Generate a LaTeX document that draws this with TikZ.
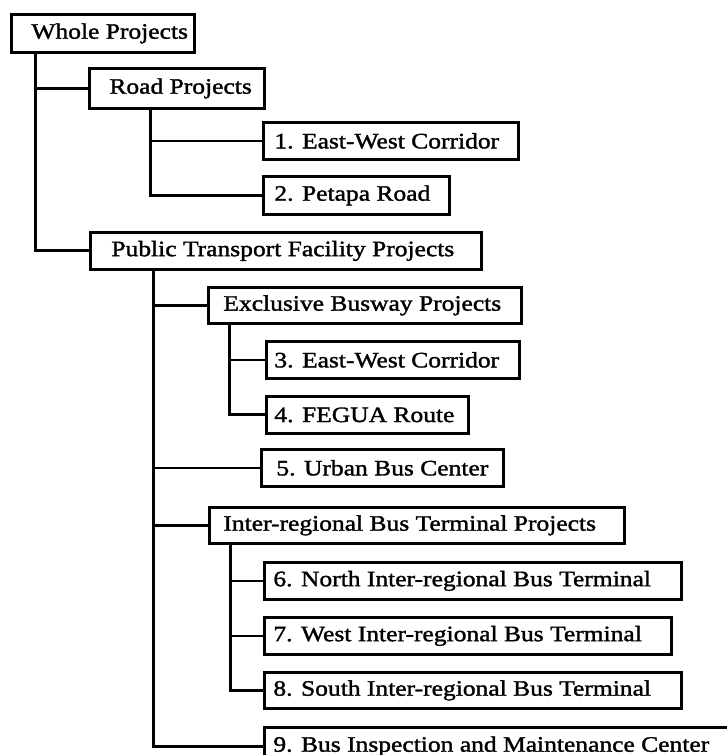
\documentclass[tikz,border=0pt]{standalone}
\usepackage{fontspec}
\setmainfont{Liberation Serif}[FakeStretch=1.16,FakeBold=1.5]
\tikzset{
  pbox/.style={draw=black, line width=2.8pt, fill=white, inner ysep=0pt, font=\fontsize{22}{24}\selectfont, anchor=north west},
  trunk/.style={draw=black, line width=3pt, line join=miter},
  conn/.style={draw=black, line width=2.2pt}
}
\newcommand\pbox[7]{% name, x1, y1, x2, y2, left pad, text
  \pgfmathsetmacro\bw{#4-#2-2*#6}%
  \pgfmathsetmacro\bh{#5-#3}%
  \node[pbox, inner xsep=#6pt, minimum height=\bh pt] (#1) at (#2,#3) {\makebox[\bw pt][l]{#7}};%
}
\begin{document}
\begin{tikzpicture}[x=1pt,y=-1pt]
\useasboundingbox (0,0) rectangle (727,755);
\clip (0,0) rectangle (727,755);
% boxes
\pbox{whole}{10}{13}{193}{51}{20}{Whole Projects}
\pbox{road}{88}{67}{263}{107}{20}{Road Projects}
\pbox{b1}{262}{121}{517}{158}{11}{1. East-West Corridor}
\pbox{b2}{262}{175}{448}{213}{11}{2. Petapa Road}
\pbox{ptf}{89}{231}{480}{268}{21}{Public Transport Facility Projects}
\pbox{excl}{207}{286}{520}{322}{15}{Exclusive Busway Projects}
\pbox{b3}{265}{340}{518}{377}{8}{3. East-West Corridor}
\pbox{b4}{265}{395}{467}{432}{8}{4. FEGUA Route}
\pbox{b5}{260}{448}{502}{485}{15}{5. Urban Bus Center}
\pbox{inter}{208}{506}{623}{542}{14}{Inter-regional Bus Terminal Projects}
\pbox{b6}{263}{561}{680}{598}{9}{6. North Inter-regional Bus Terminal}
\pbox{b7}{263}{616}{670}{653}{9}{7. West Inter-regional Bus Terminal}
\pbox{b8}{263}{671}{680}{707}{9}{8. South Inter-regional Bus Terminal}
\pbox{b9}{263}{726}{745}{764}{9}{9. Bus Inspection and Maintenance Center}
% trunk tops
\coordinate (t0) at ([xshift=25pt]whole.south west);
\coordinate (t1) at ([xshift=62pt]road.south west);
\coordinate (t2) at ([xshift=64pt]ptf.south west);
\coordinate (t3) at ([xshift=22pt]excl.south west);
\coordinate (t4) at ([xshift=22pt]inter.south west);
% connectors
\draw[trunk] (t0) |- (ptf.west);
\draw[conn] (t0) |- (road.west);
\draw[trunk] (t1) |- (b2.west);
\draw[conn] (t1) |- (b1.west);
\draw[trunk] (t2) |- (b9.west);
\draw[conn] (t2) |- (excl.west);
\draw[conn] (t2) |- (b5.west);
\draw[conn] (t2) |- (inter.west);
\draw[trunk] (t3) |- (b4.west);
\draw[conn] (t3) |- (b3.west);
\draw[trunk] (t4) |- (b8.west);
\draw[conn] (t4) |- (b6.west);
\draw[conn] (t4) |- (b7.west);
\end{tikzpicture}
\end{document}
